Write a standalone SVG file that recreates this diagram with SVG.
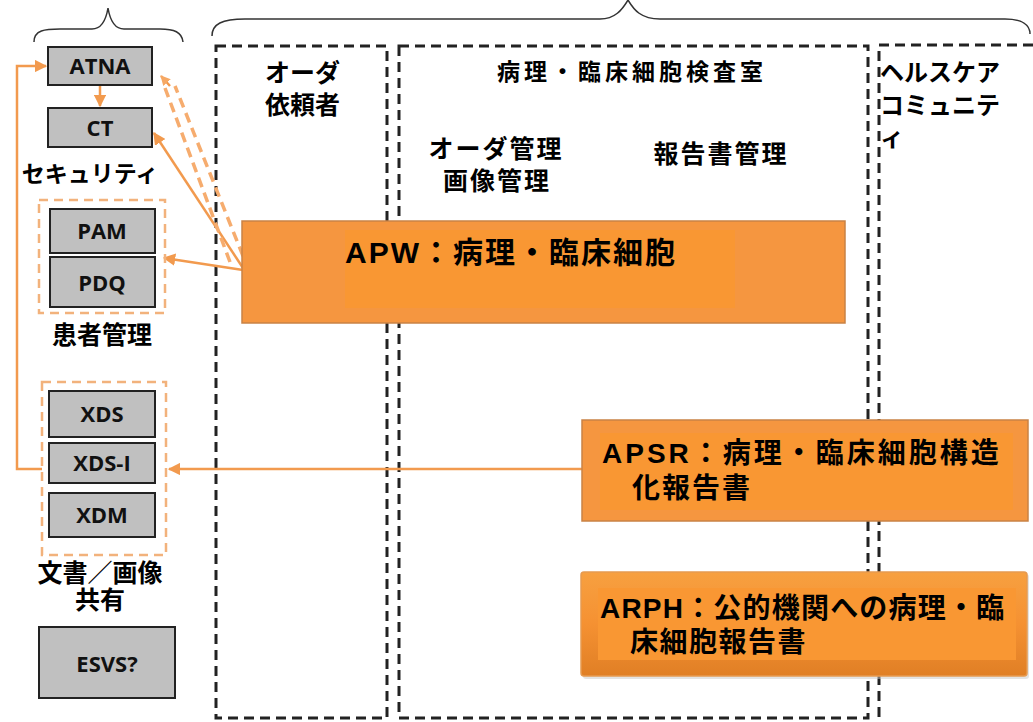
<svg xmlns="http://www.w3.org/2000/svg" width="1033" height="722" viewBox="0 0 1033 722">
<defs>
<style>
.jp{font-family:"Liberation Sans","Noto Sans CJK JP",sans-serif;font-weight:bold;fill:#000}
.box{fill:#c0c0c0;stroke:#222;stroke-width:2}
.bt{font-family:"Open Sans","Liberation Sans",sans-serif;font-weight:bold;font-size:22px;fill:#111;text-anchor:middle}
.col{fill:none;stroke:#222;stroke-width:3;stroke-dasharray:10 6}
.grp{fill:none;stroke:#f2b27c;stroke-width:2.5;stroke-dasharray:9 6}
.brace{fill:none;stroke:#333;stroke-width:1.5}
.conn{fill:none;stroke:#f29a4e;stroke-width:2.5}
.dconn{fill:none;stroke:#f6ac6e;stroke-width:3.5;stroke-dasharray:10 6}
.org{fill:#f59640;stroke:#c98245;stroke-width:1.5}
</style>
<marker id="ah" viewBox="0 0 10 10" refX="9" refY="5" markerWidth="5" markerHeight="5" orient="auto" markerUnits="strokeWidth">
<path d="M0,0 L10,5 L0,10 z" fill="#f29a4e"/>
</marker>
<marker id="ah2" viewBox="0 0 10 10" refX="9" refY="5" markerWidth="4" markerHeight="4" orient="auto" markerUnits="strokeWidth">
<path d="M0,0 L10,5 L0,10 z" fill="#f6a864"/>
</marker>
<linearGradient id="bev" x1="0" y1="0" x2="0" y2="1">
<stop offset="0" stop-color="#f7a040"/>
<stop offset="0.5" stop-color="#f59132"/>
<stop offset="1" stop-color="#e07f25"/>
</linearGradient>
</defs>

<!-- braces -->
<g id="braces">
<path class="brace" d="M34,42 C34,30 45,29 60,29 L92,29 C102,29 106,20 108,8 C110,20 114,29 124,29 L160,29 C174,29 182,32 183,42"/>
<path class="brace" d="M212,36 C212,24 222,19 245,19 L600,19 C615,19 622,10 628,0 C634,10 641,19 660,19 L1005,19 C1022,19 1030,25 1030,34"/>
</g>

<!-- columns -->
<g id="columns">
<rect class="col" x="216" y="46" width="171" height="672"/>
<rect class="col" x="399" y="46" width="469" height="672"/>
<path class="col" d="M1033,45 L879,45 L879,722"/>
</g>

<!-- column labels -->
<g id="labels">
<text class="jp" x="265" y="82" font-size="25">オーダ</text>
<text class="jp" x="265" y="114" font-size="25">依頼者</text>
<text class="jp" x="632" y="80" font-size="23" text-anchor="middle" letter-spacing="4">病理・臨床細胞検査室</text>
<text class="jp" x="496" y="158" font-size="25" text-anchor="middle" letter-spacing="2">オーダ管理</text>
<text class="jp" x="497" y="190" font-size="25" text-anchor="middle" letter-spacing="2">画像管理</text>
<text class="jp" x="721" y="163" font-size="25" text-anchor="middle" letter-spacing="2">報告書管理</text>
<text class="jp" x="880" y="81" font-size="24">ヘルスケア</text>
<text class="jp" x="880" y="114" font-size="24">コミュニテ</text>
<text class="jp" x="880" y="146" font-size="24">ィ</text>
</g>

<!-- connectors -->
<g id="connectors">
<path class="conn" d="M42,469 L17,469 L17,66 L46,66" marker-end="url(#ah)"/>
<path class="conn" d="M100,86 L100,106" marker-end="url(#ah)"/>
<path class="conn" d="M243,268 L154,133" marker-end="url(#ah)"/>
<path class="conn" d="M243,270 L164,258" marker-end="url(#ah)"/>
<path class="dconn" d="M230,262 L165,88"/>
<path class="dconn" d="M243,256 L175,86"/>
<path class="conn" d="M170,86 L161,76" stroke="#f6a864" marker-end="url(#ah2)"/>
<path class="conn" d="M583,469 L169,469" marker-end="url(#ah)"/>
</g>

<!-- security -->
<g id="security">
<g id="atna"><rect class="box" x="48" y="47" width="104" height="38"/><text class="bt" x="100" y="74">ATNA</text></g>
<g id="ct"><rect class="box" x="48" y="108" width="104" height="39"/><text class="bt" x="100" y="136">CT</text></g>
<rect x="20" y="152" width="145" height="45" fill="#fff"/>
<text class="jp" x="90" y="182" font-size="23" text-anchor="middle">セキュリティ</text>
</g>

<!-- patient management -->
<g id="patient">
<rect class="grp" x="39" y="200" width="126" height="113"/>
<g id="pam"><rect class="box" x="50" y="209" width="105" height="44"/><text class="bt" x="102" y="239" font-size="24">PAM</text></g>
<g id="pdq"><rect class="box" x="50" y="257" width="105" height="50"/><text class="bt" x="102" y="291" font-size="24">PDQ</text></g>
<text class="jp" x="102" y="344" font-size="25" text-anchor="middle">患者管理</text>
</g>

<!-- document sharing -->
<g id="docshare">
<rect class="grp" x="42" y="382" width="124" height="173"/>
<g id="xds"><rect class="box" x="49" y="391" width="106" height="46"/><text class="bt" x="102" y="422">XDS</text></g>
<g id="xdsi"><rect class="box" x="49" y="443" width="106" height="40"/><text class="bt" x="102" y="471">XDS-I</text></g>
<g id="xdm"><rect class="box" x="49" y="493" width="106" height="44"/><text class="bt" x="102" y="523">XDM</text></g>
<text class="jp" x="100" y="582" font-size="25" text-anchor="middle">文書／画像</text>
<text class="jp" x="100" y="609" font-size="25" text-anchor="middle">共有</text>
</g>

<g id="esvs"><rect class="box" x="39" y="627" width="136" height="71"/><text class="bt" x="107" y="672" font-size="26">ESVS?</text></g>

<!-- APW -->
<g id="apw">
<rect class="org" x="242" y="221" width="603" height="102"/>
<rect x="345" y="230" width="390" height="78" fill="#f99733"/>
<text class="jp" x="345" y="263" font-size="30" letter-spacing="2">APW：病理・臨床細胞</text>
</g>

<!-- APSR -->
<g id="apsr">
<rect class="org" x="582" y="420" width="446" height="101"/>
<rect x="600" y="433" width="413" height="77" fill="#f99733"/>
<text class="jp" x="602" y="463" font-size="28" letter-spacing="3">APSR：病理・臨床細胞構造</text>
<text class="jp" x="632" y="498" font-size="28" letter-spacing="2">化報告書</text>
</g>

<!-- ARPH -->
<g id="arph">
<rect x="583" y="574" width="446" height="105" rx="3" fill="#c8c8c8" opacity="0.5"/>
<rect x="581" y="572" width="446" height="104" rx="3" fill="url(#bev)" stroke="#e69a50" stroke-width="1.5"/>
<rect x="598" y="588" width="418" height="72" fill="#f99733"/>
<text class="jp" x="600" y="618" font-size="28" letter-spacing="1.2">ARPH：公的機関への病理・臨</text>
<text class="jp" x="630" y="652" font-size="28" letter-spacing="1.5">床細胞報告書</text>
</g>
</svg>
